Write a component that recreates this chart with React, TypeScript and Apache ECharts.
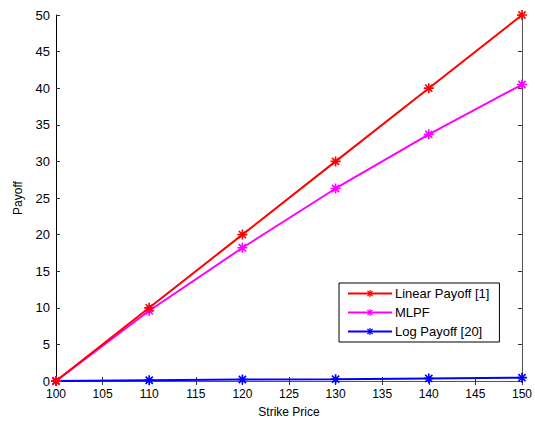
import React, { useEffect, useRef } from "react";
import * as echarts from "echarts";

const strikes = [100, 110, 120, 130, 140, 150];
const linearPayoff = [0, 10, 20, 30, 40, 50];
const mlpf = [0, 9.6, 18.2, 26.3, 33.7, 40.5];
const logPayoff = [0, 0.1, 0.2, 0.25, 0.35, 0.45];
const seriesNames = ["Linear Payoff [1]", "MLPF", "Log Payoff [20]"];
const colors = ["#ff0000", "#ff00ff", "#0000ff"];

const star =
  "path://M4,0h2v3.6l2.6,-2.6l1.4,1.4l-2.6,2.6h3.6v2h-3.6l2.6,2.6l-1.4,1.4l-2.6,-2.6v3.6h-2v-3.6l-2.6,2.6l-1.4,-1.4l2.6,-2.6h-3.6v-2h3.6l-2.6,-2.6l1.4,-1.4l2.6,2.6z";

export default function App() {
  const ref = useRef<HTMLDivElement>(null);
  useEffect(() => {
    const chart = echarts.init(ref.current!, null, { renderer: "svg" });
    const font = "Arial, 'Liberation Sans', sans-serif";
    const pair = (xs: number[], ys: number[]) => xs.map((x, i) => [x, ys[i]]);
    const datas = [linearPayoff, mlpf, logPayoff];
    const axisCommon = {
      type: "value" as const,
      splitLine: { show: false },
      axisTick: { show: true, inside: true, length: 4, lineStyle: { color: "#333" } },
      axisLine: { show: true, lineStyle: { color: "#000", width: 1 } },
    };
    chart.setOption({
      animation: false,
      backgroundColor: "#fff",
      grid: { left: 56, top: 15, right: 10, bottom: 38 },
      legend: {
        show: true,
        orient: "vertical",
        left: 339,
        top: 283,
        itemWidth: 44,
        itemHeight: 9,
        itemGap: 6,
        padding: [4, 10, 4, 8],
        borderColor: "#000",
        borderWidth: 1,
        backgroundColor: "#fff",
        textStyle: { fontFamily: font, fontSize: 13, color: "#000", padding: [0, 0, 0, -2] },
        data: seriesNames,
      },
      xAxis: [
        {
          ...axisCommon,
          min: 100,
          max: 150,
          interval: 5,
          name: "Strike Price",
          nameLocation: "middle",
          nameGap: 25,
          nameTextStyle: { fontFamily: font, fontSize: 12, color: "#000" },
          axisLabel: { fontFamily: font, fontSize: 12, color: "#000", margin: 7 },
        },
        {
          ...axisCommon,
          position: "top",
          min: 100,
          max: 150,
          interval: 5,
          axisLabel: { show: false },
          axisLine: { show: true, lineStyle: { color: "#555", width: 1 } },
        },
      ],
      yAxis: [
        {
          ...axisCommon,
          min: 0,
          max: 50,
          interval: 5,
          name: "Payoff",
          nameLocation: "middle",
          nameGap: 32,
          nameTextStyle: { fontFamily: font, fontSize: 12, color: "#000" },
          axisLabel: { fontFamily: font, fontSize: 13, color: "#000", margin: 6 },
        },
        {
          ...axisCommon,
          position: "right",
          min: 0,
          max: 50,
          interval: 5,
          axisLabel: { show: false },
          axisLine: { show: true, lineStyle: { color: "#555", width: 1 } },
        },
      ],
      series: seriesNames.map((name, i) => ({
        name,
        type: "line",
        data: pair(strikes, datas[i]),
        symbol: star,
        symbolSize: 10,
        showSymbol: true,
        lineStyle: { color: colors[i], width: 2 },
        itemStyle: { color: colors[i] },
        z: 3 - i,
      })),
    });
    return () => chart.dispose();
  }, []);
  return <div ref={ref} style={{ width: 535, height: 423, position: "absolute", left: 0, top: 0 }} />;
}
